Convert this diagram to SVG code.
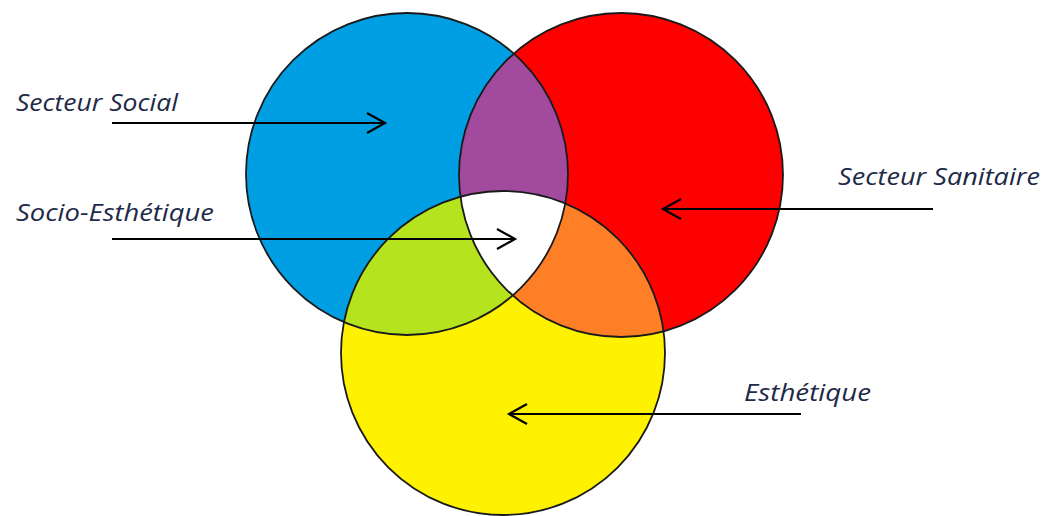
<svg xmlns="http://www.w3.org/2000/svg" width="1059" height="516" viewBox="0 0 1059 516">
<style>
.lbl{font-family:"Open Sans","Liberation Sans",sans-serif;font-style:italic;font-size:24.5px;fill:#1e2a48}
.ring{fill:none;stroke:#1a1a1a;stroke-width:1.8}
.arr{fill:none;stroke:#000;stroke-width:2.2}
</style>
<defs>
<clipPath id="cB"><circle cx="407" cy="174" r="161"/></clipPath>
<clipPath id="cR"><circle cx="621" cy="175" r="162"/></clipPath>
<clipPath id="cY"><circle cx="503" cy="353" r="162"/></clipPath>
<marker id="head" markerWidth="22" markerHeight="24" refX="19" refY="11" orient="auto" markerUnits="userSpaceOnUse">
<path d="M1,1 L19,11 L1,21" fill="none" stroke="#000" stroke-width="2.2"/>
</marker>
</defs>
<rect width="1059" height="516" fill="#fff"/>
<g id="social"><circle cx="407" cy="174" r="161" fill="#009fe3"/></g>
<g id="sanitaire"><circle cx="621" cy="175" r="162" fill="#ff0000"/></g>
<g id="esthetique"><circle cx="503" cy="353" r="162" fill="#fff200"/></g>
<g id="overlaps">
<circle cx="621" cy="175" r="162" fill="#a14a9e" clip-path="url(#cB)"/>
<circle cx="503" cy="353" r="162" fill="#b5e31e" clip-path="url(#cB)"/>
<circle cx="503" cy="353" r="162" fill="#ff7f27" clip-path="url(#cR)"/>
<g clip-path="url(#cB)"><circle cx="503" cy="353" r="162" fill="#ffffff" clip-path="url(#cR)"/></g>
</g>
<g id="outlines">
<circle class="ring" cx="407" cy="174" r="161"/>
<circle class="ring" cx="621" cy="175" r="162"/>
<circle class="ring" cx="503" cy="353" r="162"/>
</g>
<g id="connectors">
<line class="arr" x1="112" y1="123" x2="385" y2="123" marker-end="url(#head)"/>
<line class="arr" x1="112" y1="239" x2="515" y2="239" marker-end="url(#head)"/>
<line class="arr" x1="933" y1="209" x2="663" y2="209" marker-end="url(#head)"/>
<line class="arr" x1="801" y1="414" x2="509" y2="414" marker-end="url(#head)"/>
</g>
<g id="labels">
<text class="lbl" x="16" y="111" textLength="162" lengthAdjust="spacingAndGlyphs">Secteur Social</text>
<text class="lbl" x="16" y="221" textLength="198" lengthAdjust="spacingAndGlyphs">Socio-Esthétique</text>
<text class="lbl" x="838" y="185" textLength="202" lengthAdjust="spacingAndGlyphs">Secteur Sanitaire</text>
<text class="lbl" x="744" y="401" textLength="127" lengthAdjust="spacingAndGlyphs">Esthétique</text>
</g>
</svg>
